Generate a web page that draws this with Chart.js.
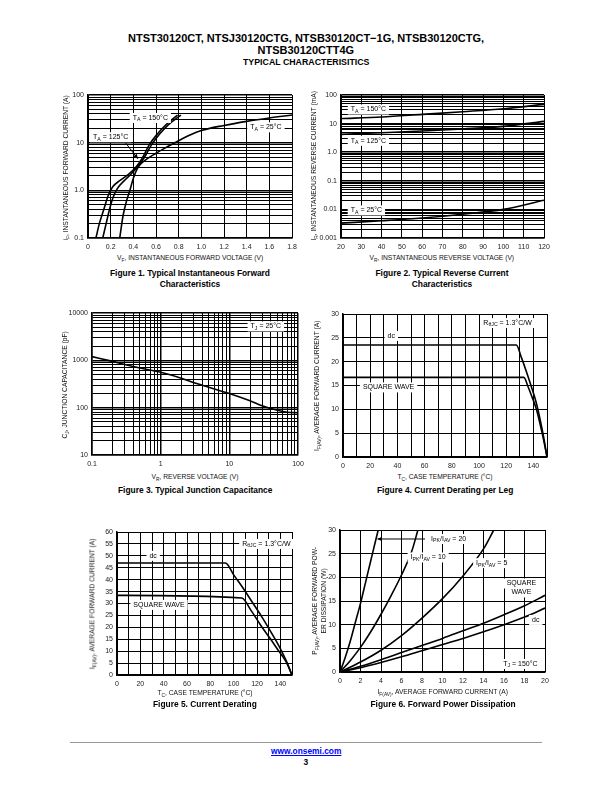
<!DOCTYPE html>
<html>
<head>
<meta charset="utf-8">
<script src="https://cdn.jsdelivr.net/npm/chart.js@4.4.0/dist/chart.umd.min.js"></script>
<style>
body { margin: 0; background: #fff; font-family: "Liberation Sans", Arial, Helvetica, sans-serif; color: #000; }
#page { position: relative; width: 612px; height: 792px; overflow: hidden; background: #fff; }
.t { position: absolute; white-space: nowrap; line-height: 1.15; text-align: center; }
canvas { position: absolute; }
sub { font-size: 72%; vertical-align: -2px; line-height: 0; }
</style>
</head>
<body>
<div id="page"></div>
<script>
const FONT = '"Liberation Sans", Arial, Helvetica, sans-serif';
const page = document.getElementById('page');

// Figure 1 - forward characteristics (V, A)
const fig1Volts150 = [0.07, 0.10, 0.14, 0.18, 0.22, 0.28, 0.36, 0.42, 0.48, 0.54, 0.61, 0.69, 0.79];
const fig1Amps150  = [0.1, 0.2, 0.4, 0.8, 1.2, 1.6, 2.2, 3.0, 4.8, 9, 15, 24, 38];
const fig1Volts125 = [0.13, 0.16, 0.19, 0.22, 0.26, 0.32, 0.38, 0.44, 0.50, 0.56, 0.63, 0.71, 0.82];
const fig1Amps125  = [0.1, 0.2, 0.4, 0.7, 1.1, 1.6, 2.2, 3.2, 5, 9, 15, 24, 38];
const fig1Volts25  = [0.28, 0.31, 0.34, 0.37, 0.40, 0.44, 0.50, 0.60, 0.70, 0.80, 0.90, 1.0, 1.2, 1.4, 1.6, 1.8];
const fig1Amps25   = [0.1, 0.3, 0.6, 1.0, 1.8, 3.0, 4.2, 6, 8.2, 11, 14.5, 18, 23, 28, 33, 38];
const fig1XTicks = [0, 0.2, 0.4, 0.6, 0.8, 1.0, 1.2, 1.4, 1.6, 1.8];
const fig1XLabels = ['0', '0.2', '0.4', '0.6', '0.8', '1.0', '1.2', '1.4', '1.6', '1.8'];
const fig1YTicks = [0.1, 1, 10, 100];
const fig1YLabels = ['0.1', '1.0', '10', '100'];

// Figure 2 - reverse current (V, mA)
const fig2Volts = [20, 40, 60, 80, 100, 120];
const fig2mA150 = [15, 17, 21, 26, 33, 47];
const fig2mA125 = [4.2, 4.8, 5.5, 6.5, 8, 12];
const fig2mA25  = [0.0033, 0.0040, 0.0050, 0.0068, 0.010, 0.021];
const fig2XTicks = [20, 30, 40, 50, 60, 70, 80, 90, 100, 110, 120];
const fig2XLabels = ['20', '30', '40', '50', '60', '70', '80', '90', '100', '110', '120'];
const fig2YTicks = [0.001, 0.01, 0.1, 1, 10, 100];
const fig2YLabels = ['0.001', '0.01', '0.1', '1.0', '10', '100'];

// Figure 3 - junction capacitance (V, pF)
const fig3Volts = [0.1, 0.2, 0.3, 0.5, 1, 2, 3, 5, 10, 20, 30, 50, 70, 100];
const fig3pF    = [1200, 950, 820, 690, 560, 420, 340, 270, 200, 140, 110, 88, 80, 78];
const fig3XTicks = [0.1, 1, 10, 100];
const fig3XLabels = ['0.1', '1', '10', '100'];
const fig3YTicks = [10, 100, 1000, 10000];
const fig3YLabels = ['10', '100', '1000', '10000'];

// Figure 4 - current derating per leg (degC, A)
const fig4TempDC = [0, 127.5, 131, 135, 139, 142, 145, 147.5, 150];
const fig4AmpsDC = [23.5, 23.5, 21, 17.8, 14.3, 11.5, 7.8, 4.2, 0];
const fig4TempSQ = [0, 133, 136, 139, 142, 145, 147.5, 150];
const fig4AmpsSQ = [16.7, 16.7, 14.8, 12.6, 10.2, 6.8, 3.6, 0];
const fig4YTicks = [0, 5, 10, 15, 20, 25, 30];

// Figure 5 - current derating (degC, A)
const fig5TempDC = [0, 93, 100, 108, 116, 124, 132, 139, 145, 150];
const fig5AmpsDC = [47, 47, 42, 36.5, 30.5, 24.5, 18, 12, 6, 0];
const fig5TempSQ = [0, 107, 115, 123, 131, 138, 145, 150];
const fig5AmpsSQ = [33.4, 32.3, 27, 21, 15.5, 10.5, 5.5, 0];
const fig5YTicks = [0, 5, 10, 15, 20, 25, 30, 35, 40, 45, 50, 55, 60];

// shared temperature axis for fig 4/5
const tempGrid = [0, 10, 20, 30, 40, 50, 60, 70, 80, 90, 100, 110, 120, 130, 140, 150];
const tempLabels = [0, 20, 40, 60, 80, 100, 120, 140];

// Figure 6 - forward power dissipation (A, W)
const fig6Amps20  = [0, 0.5, 1, 1.5, 2, 2.5, 3, 3.5, 3.9];
const fig6Watts20 = [0, 3, 6.5, 10.5, 14.5, 19, 23.5, 28, 31.5];
const fig6Amps10  = [0, 1, 2, 3, 4, 5, 6, 7, 7.6];
const fig6Watts10 = [0, 2.4, 5.2, 8.5, 12.2, 16.2, 20.5, 25.5, 30];
const fig6Amps5   = [0, 2, 4, 6, 8, 10, 12, 14, 15];
const fig6Watts5  = [0, 2.1, 4.6, 7.7, 11.4, 15.5, 20.3, 26, 30];
const fig6Amps    = [0, 2, 4, 6, 8, 10, 12, 14, 16, 18, 20];
const fig6WattsSQ = [0, 1.2, 2.6, 4.1, 5.6, 7.1, 8.7, 10.3, 12.1, 14, 16.2];
const fig6WattsDC = [0, 0.9, 2.0, 3.2, 4.5, 5.8, 7.1, 8.5, 10, 11.6, 13.5];
const fig6XTicks = [0, 2, 4, 6, 8, 10, 12, 14, 16, 18, 20];
const fig6YTicks = [0, 5, 10, 15, 20, 25, 30];

Chart.defaults.font.family = FONT;

function same(a, b) { return Math.abs(a - b) <= Math.abs(b) * 1e-6 + 1e-9; }

// log grid: every 1..9 per decade, labels on given values
function logTicks(lo, hi, vals, labels) {
    const out = [];
    for (let e = lo; e < hi; e++) {
        for (let k = 1; k < 10; k++) out.push({ value: k * Math.pow(10, e), big: k === 1 });
    }
    out.push({ value: Math.pow(10, hi), big: true });
    out.forEach(t => {
        const i = vals.findIndex(v => same(v, t.value));
        if (i >= 0) t.lbl = labels[i];
    });
    return out;
}

function linTicks(grid, labelVals) {
    return grid.map(v => {
        const l = labelVals.find(x => same(x, v));
        return { value: v, lbl: l === undefined ? '' : String(l) };
    });
}

function axis(type, min, max, ticks, isX, size) {
    return {
        type: type,
        min: min,
        max: max,
        afterBuildTicks: s => { s.ticks = ticks.map(t => Object.assign({}, t)); },
        afterFit: s => {
            if (isX) s.height = size; else s.width = size;
            s.paddingLeft = 0; s.paddingRight = 0; s.paddingTop = 0; s.paddingBottom = 0;
        },
        grid: {
            color: '#000',
            lineWidth: c => (c.tick && c.tick.big) ? 1.5 : 1,
            drawTicks: false
        },
        border: { color: '#000', width: 1.5 },
        ticks: {
            autoSkip: false,
            maxRotation: 0,
            padding: isX ? 5 : 4,
            color: '#222',
            font: { size: 7 },
            callback: (v, i, ts) => ts[i].lbl || ''
        }
    };
}

function curve(xs, ys) {
    return {
        data: xs.map((x, i) => ({ x: x, y: ys[i] })),
        borderColor: '#000',
        borderWidth: 1.6,
        pointRadius: 0,
        cubicInterpolationMode: 'monotone',
        fill: false
    };
}

function notesPlugin(items, lines) {
    return {
        id: 'notes',
        afterDatasetsDraw(chart) {
            const ctx = chart.ctx, sx = chart.scales.x, sy = chart.scales.y;
            ctx.save();
            ctx.strokeStyle = '#000';
            ctx.fillStyle = '#000';
            ctx.lineWidth = 1;
            (lines || []).forEach(l => {
                const x1 = sx.getPixelForValue(l.from[0]), y1 = sy.getPixelForValue(l.from[1]);
                const x2 = sx.getPixelForValue(l.to[0]), y2 = sy.getPixelForValue(l.to[1]);
                ctx.beginPath(); ctx.moveTo(x1, y1); ctx.lineTo(x2, y2); ctx.stroke();
                const a = Math.atan2(y2 - y1, x2 - x1);
                ctx.beginPath();
                ctx.moveTo(x2, y2);
                ctx.lineTo(x2 - 5 * Math.cos(a - 0.45), y2 - 5 * Math.sin(a - 0.45));
                ctx.lineTo(x2 - 5 * Math.cos(a + 0.45), y2 - 5 * Math.sin(a + 0.45));
                ctx.closePath();
                ctx.fill();
            });
            items.forEach(n => {
                let w = 0;
                const segs = n.parts.map(p => {
                    const sub = p[0] === '_';
                    const t = sub ? p.slice(1) : p;
                    ctx.font = (sub ? 5.2 : 7) + 'px ' + FONT;
                    const sw = ctx.measureText(t).width;
                    w += sw;
                    return { t: t, sub: sub, sw: sw };
                });
                const cx = sx.getPixelForValue(n.x), cy = sy.getPixelForValue(n.y);
                let x = cx - w / 2;
                ctx.fillStyle = '#fff';
                ctx.fillRect(x - 3, cy - 5, w + 6, 10);
                ctx.fillStyle = '#000';
                ctx.textBaseline = 'middle';
                ctx.textAlign = 'left';
                segs.forEach(s => {
                    ctx.font = (s.sub ? 5.2 : 7) + 'px ' + FONT;
                    ctx.fillText(s.t, x, s.sub ? cy + 2 : cy);
                    x += s.sw;
                });
            });
            ctx.restore();
        }
    };
}

// rect = plot area in page pixels
function makeChart(rect, xAxis, yAxis, datasets, items, lines) {
    const yW = 34, xH = 15, padT = 6, padR = 9;
    const c = document.createElement('canvas');
    c.width = yW + rect.w + padR;
    c.height = padT + rect.h + xH;
    c.style.left = (rect.l - yW) + 'px';
    c.style.top = (rect.t - padT) + 'px';
    page.appendChild(c);
    new Chart(c, {
        type: 'line',
        data: { datasets: datasets },
        options: {
            responsive: false,
            animation: false,
            layout: { padding: { top: padT, right: padR, left: 0, bottom: 0 } },
            scales: { x: xAxis, y: yAxis },
            plugins: { legend: { display: false }, tooltip: { enabled: false } }
        },
        plugins: [notesPlugin(items || [], lines)]
    });
}

function txt(html, cx, cy, style, rotate) {
    const d = document.createElement('div');
    d.className = 't';
    d.innerHTML = html;
    Object.assign(d.style, style || {});
    page.appendChild(d);
    const w = d.offsetWidth, h = d.offsetHeight;
    d.style.left = (cx - w / 2) + 'px';
    d.style.top = (cy - h / 2) + 'px';
    if (rotate) d.style.transform = 'rotate(-90deg)';
}

// ---- Figure 1
makeChart({ l: 88, t: 95, w: 204, h: 143 },
    axis('linear', 0, 1.8, fig1XTicks.map((v, i) => ({ value: v, lbl: fig1XLabels[i] })), true, 15),
    axis('logarithmic', 0.1, 100, logTicks(-1, 2, fig1YTicks, fig1YLabels), false, 34),
    [curve(fig1Volts150, fig1Amps150), curve(fig1Volts125, fig1Amps125), curve(fig1Volts25, fig1Amps25)],
    [
        { x: 0.55, y: 33, parts: ['T', '_A', ' = 150°C'] },
        { x: 0.2, y: 13, parts: ['T', '_A', ' = 125°C'] },
        { x: 1.57, y: 21, parts: ['T', '_A', ' = 25°C'] }
    ],
    [{ from: [0.33, 10], to: [0.44, 4.6] }]
);

// ---- Figure 2
makeChart({ l: 341, t: 95, w: 203, h: 143 },
    axis('linear', 20, 120, fig2XTicks.map((v, i) => ({ value: v, lbl: fig2XLabels[i] })), true, 15),
    axis('logarithmic', 0.001, 100, logTicks(-3, 2, fig2YTicks, fig2YLabels), false, 34),
    [curve(fig2Volts, fig2mA150), curve(fig2Volts, fig2mA125), curve(fig2Volts, fig2mA25)],
    [
        { x: 33.5, y: 31, parts: ['T', '_A', ' = 150°C'] },
        { x: 33.5, y: 2.5, parts: ['T', '_A', ' = 125°C'] },
        { x: 32.5, y: 0.0092, parts: ['T', '_A', ' = 25°C'] }
    ]
);

// ---- Figure 3
makeChart({ l: 92, t: 313, w: 206, h: 142 },
    axis('logarithmic', 0.1, 100, logTicks(-1, 2, fig3XTicks, fig3XLabels), true, 15),
    axis('logarithmic', 10, 10000, logTicks(1, 4, fig3YTicks, fig3YLabels), false, 34),
    [curve(fig3Volts, fig3pF)],
    [{ x: 34, y: 5200, parts: ['T', '_J', ' = 25°C'] }]
);

// ---- Figure 4
makeChart({ l: 343, t: 314, w: 204, h: 143 },
    axis('linear', 0, 150, linTicks(tempGrid, tempLabels), true, 15),
    axis('linear', 0, 30, linTicks(fig4YTicks, fig4YTicks), false, 34),
    [curve(fig4TempDC, fig4AmpsDC), curve(fig4TempSQ, fig4AmpsSQ)],
    [
        { x: 35.5, y: 25.4, parts: ['dc'] },
        { x: 33.5, y: 14.6, parts: ['SQUARE WAVE'] },
        { x: 121, y: 28.1, parts: ['R', '_θJC', ' = 1.3°C/W'] }
    ]
);

// ---- Figure 5
makeChart({ l: 117, t: 532, w: 175, h: 143 },
    axis('linear', 0, 150, linTicks(tempGrid, tempLabels), true, 15),
    axis('linear', 0, 60, linTicks(fig5YTicks, fig5YTicks), false, 34),
    [curve(fig5TempDC, fig5AmpsDC), curve(fig5TempSQ, fig5AmpsSQ)],
    [
        { x: 31, y: 50, parts: ['dc'] },
        { x: 36, y: 29.4, parts: ['SQUARE WAVE'] },
        { x: 128, y: 55, parts: ['R', '_θJC', ' = 1.3°C/W'] }
    ]
);

// ---- Figure 6
makeChart({ l: 340, t: 530, w: 205, h: 142 },
    axis('linear', 0, 20, linTicks(fig6XTicks, fig6XTicks), true, 15),
    axis('linear', 0, 30, linTicks(fig6YTicks, fig6YTicks), false, 34),
    [curve(fig6Amps20, fig6Watts20), curve(fig6Amps10, fig6Watts10), curve(fig6Amps5, fig6Watts5),
     curve(fig6Amps, fig6WattsSQ), curve(fig6Amps, fig6WattsDC)],
    [
        { x: 10.6, y: 28.1, parts: ['I', '_PK', '/I', '_AV', ' = 20'] },
        { x: 8.6, y: 24.2, parts: ['I', '_PK', '/I', '_AV', ' = 10'] },
        { x: 14.8, y: 23, parts: ['I', '_PK', '/I', '_AV', ' = 5'] },
        { x: 17.7, y: 18.7, parts: ['SQUARE'] },
        { x: 17.7, y: 16.8, parts: ['WAVE'] },
        { x: 19.1, y: 11, parts: ['dc'] },
        { x: 17.6, y: 1.7, parts: ['T', '_J', ' = 150°C'] }
    ],
    [{ from: [8.3, 28.1], to: [3.65, 28.1] }]
);

// ---- page text
const H = { fontWeight: 'bold', fontSize: '11px' };
txt('NTST30120CT, NTSJ30120CTG, NTSB30120CT−1G, NTSB30120CTG,', 306, 38, H);
txt('NTSB30120CTT4G', 306, 50, H);
txt('TYPICAL CHARACTERISITICS', 306, 62, { fontWeight: 'bold', fontSize: '8.8px' });

const AX = { fontSize: '6.7px', color: '#111' };
const CAP = { fontWeight: 'bold', fontSize: '8.4px', lineHeight: '11.5px' };

txt('i<sub>F</sub>, INSTANTANEOUS FORWARD CURRENT (A)', 65, 168, AX, true);
txt('V<sub>F</sub>, INSTANTANEOUS FORWARD VOLTAGE (V)', 190, 258, AX);
txt('Figure 1. Typical Instantaneous Forward<br>Characteristics', 190, 279, CAP);

txt('I<sub>R</sub>, INSTANTANEOUS REVERSE CURRENT (mA)', 314, 166, AX, true);
txt('V<sub>R</sub>, INSTANTANEOUS REVERSE VOLTAGE (V)', 442, 258, AX);
txt('Figure 2. Typical Reverse Current<br>Characteristics', 442, 279, CAP);

txt('C<sub>J</sub>, JUNCTION CAPACITANCE (pF)', 64, 385, AX, true);
txt('V<sub>R</sub>, REVERSE VOLTAGE (V)', 195, 477, AX);
txt('Figure 3. Typical Junction Capacitance', 195, 491, CAP);

txt('I<sub>F(AV)</sub>, AVERAGE FORWARD CURRENT (A)', 317, 386, AX, true);
txt('T<sub>C</sub>, CASE TEMPERATURE (°C)', 445, 477, AX);
txt('Figure 4. Current Derating per Leg', 445, 491, CAP);

txt('I<sub>F(AV)</sub>, AVERAGE FORWARD CURRENT (A)', 92, 604, AX, true);
txt('T<sub>C</sub>, CASE TEMPERATURE (°C)', 205, 693, AX);
txt('Figure 5. Current Derating', 205, 705, CAP);

txt('P<sub>F(AV)</sub>, AVERAGE FORWARD POW-', 315, 601, AX, true);
txt('ER DISSIPATION (W)', 323, 601, AX, true);
txt('I<sub>F(AV)</sub>, AVERAGE FORWARD CURRENT (A)', 443, 692, AX);
txt('Figure 6. Forward Power Dissipation', 443, 705, CAP);

// footer
const rule = document.createElement('div');
Object.assign(rule.style, { position: 'absolute', left: '70px', top: '742px', width: '472px', height: '1px', background: '#999' });
page.appendChild(rule);
txt('<span style="color:#00f;text-decoration:underline">www.onsemi.com</span>', 306, 752, { fontWeight: 'bold', fontSize: '8.4px' });
txt('3', 306, 763, { fontWeight: 'bold', fontSize: '8.4px' });
</script>
</body>
</html>
